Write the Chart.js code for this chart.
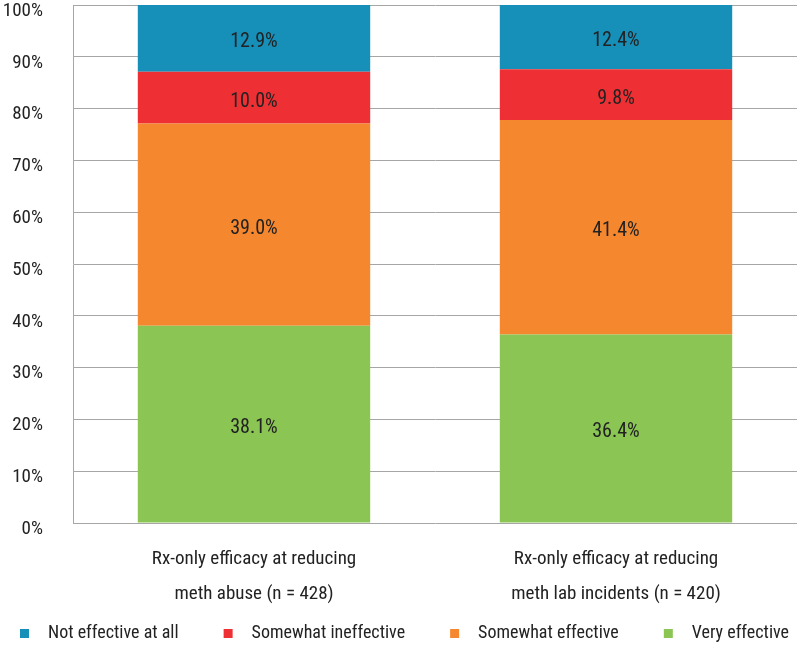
<!DOCTYPE html>
<html>
<head>
<meta charset="utf-8">
<script src="https://cdn.jsdelivr.net/npm/chart.js@4/dist/chart.umd.min.js"></script>
<style>
  html, body { margin: 0; padding: 0; background: #fff; }
  #wrap { width: 800px; height: 645px; position: relative; }
</style>
</head>
<body>
<div id="wrap"><canvas id="chart"></canvas></div>
<script>
// --- Data ---
const categories = [
  ['Rx-only efficacy at reducing', 'meth abuse (n = 428)'],
  ['Rx-only efficacy at reducing', 'meth lab incidents (n = 420)'],
];
const veryEffective       = [38.1, 36.4];
const somewhatEffective   = [39.0, 41.4];
const somewhatIneffective = [10.0, 9.8];
const notEffective        = [12.9, 12.4];
const yTicks = [0, 10, 20, 30, 40, 50, 60, 70, 80, 90, 100];

const FONT = "'Liberation Sans Narrow', 'Roboto Condensed', 'DejaVu Sans Condensed', sans-serif";

const COLORS = {
  blue:   '#1790b9',
  red:    '#ee3034',
  orange: '#f5882e',
  green:  '#8bc553',
  grid:   '#a6a6a6',
  text:   '#222222',
};

// legend swatch: transparent lead-in (gap from previous item), then the 9px square, then a gap before the text
function swatch(color) {
  const c = document.createElement('canvas');
  c.width = 61; c.height = 9;
  const g = c.getContext('2d');
  g.fillStyle = color;
  g.fillRect(42, 0, 9, 9);
  return c;
}

// draws the % value in the middle of each segment (sits a little low, like the original)
const segmentLabels = {
  id: 'segmentLabels',
  afterDatasetsDraw(chart) {
    const ctx = chart.ctx;
    ctx.save();
    ctx.font = '20px ' + FONT;
    ctx.fillStyle = COLORS.text;
    ctx.textAlign = 'center';
    ctx.textBaseline = 'middle';
    chart.data.datasets.forEach((ds, i) => {
      const meta = chart.getDatasetMeta(i);
      meta.data.forEach((bar, j) => {
        ctx.fillText(ds.data[j].toFixed(1) + '%', bar.x, (bar.y + bar.base) / 2 + 4);
      });
    });
    ctx.restore();
  },
};

function ds(label, data, color) {
  return { label, data, backgroundColor: color, borderWidth: 0,
           categoryPercentage: 1, barPercentage: 0.642 };
}

new Chart(document.getElementById('chart'), {
  type: 'bar',
  data: {
    labels: categories,
    datasets: [
      ds('Very effective', veryEffective, COLORS.green),
      ds('Somewhat effective', somewhatEffective, COLORS.orange),
      ds('Somewhat ineffective', somewhatIneffective, COLORS.red),
      ds('Not effective at all', notEffective, COLORS.blue),
    ],
  },
  options: {
    responsive: true, maintainAspectRatio: false, animation: false,
    layout: { padding: { top: 5, right: 3, left: -25, bottom: -7 } },
    plugins: {
      tooltip: { enabled: false },
      legend: {
        position: 'bottom', align: 'start', reverse: true,
        labels: {
          usePointStyle: true, pointStyleWidth: 61, boxHeight: 9, padding: 3,
          color: COLORS.text, font: { family: FONT, size: 18 },
          generateLabels(chart) {
            const items = Chart.defaults.plugins.legend.labels.generateLabels(chart);
            items.forEach(it => { it.pointStyle = swatch(chart.data.datasets[it.datasetIndex].backgroundColor); });
            return items;
          },
        },
      },
    },
    scales: {
      x: {
        stacked: true,
        afterFit(scale) { scale.height = 98; },
        grid: { display: false, drawTicks: false },
        border: { display: false },
        ticks: { color: COLORS.text, padding: 19, maxRotation: 0, font: { family: FONT, size: 19, lineHeight: 1.84 } },
      },
      y: {
        stacked: true, min: 0, max: 100,
        afterBuildTicks(scale) { scale.ticks = yTicks.map(v => ({ value: v })); },
        afterFit(scale) { scale.width = 98; scale.paddingTop = 0; scale.paddingBottom = 0; },
        grid: { color: COLORS.grid, lineWidth: 1, drawTicks: false },
        border: { color: COLORS.grid },
        ticks: {
          color: COLORS.text, padding: 30, labelOffset: 6,
          font: { family: FONT, size: 19 },
          callback: v => v + '%',
        },
      },
    },
  },
  plugins: [segmentLabels],
});
</script>
</body>
</html>
